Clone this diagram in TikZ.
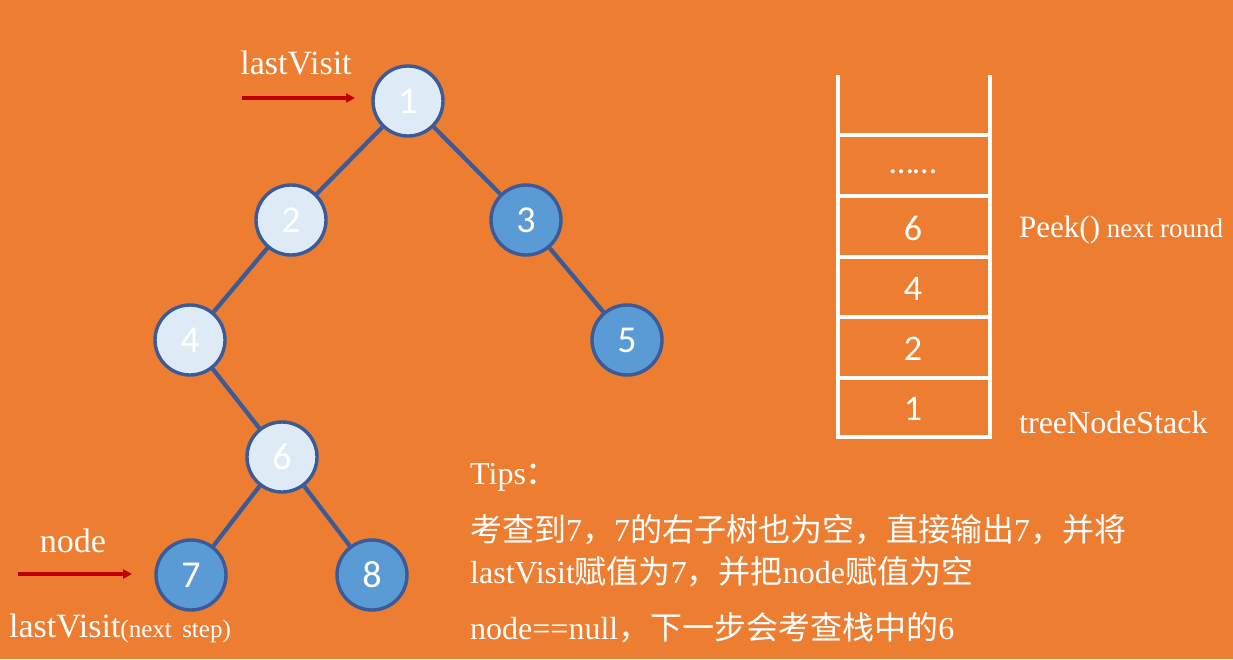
\documentclass[tikz,border=0pt]{standalone}
\usepackage{fontspec}
\setmainfont{Liberation Serif}
\newfontfamily\numfont{Carlito}
\newfontfamily\cjk{Noto Sans CJK SC}
\usetikzlibrary{arrows.meta}
\definecolor{bg}{HTML}{ED7D31}
\definecolor{lightn}{HTML}{DEEBF7}
\definecolor{darkn}{HTML}{5B9BD5}
\definecolor{edgec}{HTML}{3A5A98}
\definecolor{arrowred}{HTML}{C00000}
\tikzset{
  tnode/.style={circle, draw=edgec, line width=3.4pt, minimum size=70pt, inner sep=0pt, text=white, font=\numfont\fontsize{38}{40}\selectfont},
  lnode/.style={tnode, fill=lightn},
  dnode/.style={tnode, fill=darkn},
  tedge/.style={draw=edgec, line width=4.2pt},
  ptr/.style={draw=arrowred, line width=3.4pt, -{Triangle[length=9pt,width=9pt]}},
  lbl/.style={text=white, inner sep=0pt, font=\fontsize{34}{36}\selectfont},
  stk/.style={draw=white, line width=3.2pt},
  stxt/.style={text=white, inner sep=0pt, font=\numfont\fontsize{36}{38}\selectfont},
  tip/.style={text=white, inner sep=0pt, anchor=west, font=\fontsize{32}{34}\selectfont},
}
\newcommand{\zh}[1]{{\cjk #1}}
\begin{document}
\begin{tikzpicture}[x=1pt,y=-1pt]
\fill[bg] (0,0) rectangle (1233,659);
\useasboundingbox (0,0) rectangle (1233,659);
% tree nodes
\node[lnode] (n1) at (408,101) {1};
\node[lnode] (n2) at (291,220) {2};
\node[dnode] (n3) at (526,220) {3};
\node[lnode] (n4) at (190,340) {4};
\node[dnode] (n5) at (627,340) {5};
\node[lnode] (n6) at (282,457) {6};
\node[dnode] (n7) at (191,575) {7};
\node[dnode] (n8) at (372,575) {8};
\begin{scope}[on background layer/.style={}]
\draw[tedge] (n1) -- (n2);
\draw[tedge] (n1) -- (n3);
\draw[tedge] (n2) -- (n4);
\draw[tedge] (n3) -- (n5);
\draw[tedge] (n4) -- (n6);
\draw[tedge] (n6) -- (n7);
\draw[tedge] (n6) -- (n8);
\end{scope}
% pointers
\node[lbl] (lv) at (296,63) {lastVisit};
\coordinate (a1s) at (242,98);
\coordinate (a1e) at (355,98);
\draw[ptr] (a1s) -- (a1e);
\node[lbl] (nd) at (73,541) {node};
\coordinate (a2s) at (18,574);
\coordinate (a2e) at (132,574);
\draw[ptr] (a2s) -- (a2e);
\node[lbl, anchor=base west] (lvn) at (9,637) {lastVisit{\fontsize{25}{27}\selectfont(next\ \,step)}};
% stack
\draw[stk] (838,75) -- (838,437) -- (990,437) -- (990,75);
\foreach \yy in {135,196,257,317,378} {\draw[stk] (838,\yy) -- (990,\yy);}
\node[stxt] (sdots) at (913,172) {\fontsize{34}{36}\selectfont ……};
\node[stxt] (s6) at (913,228) {6};
\node[stxt] (s4) at (913,289) {4};
\node[stxt] (s2) at (913,349) {2};
\node[stxt] (s1) at (913,409) {1};
\node[lbl, anchor=base west, font=\fontsize{31}{33}\selectfont] (peek) at (1019,237) {Peek(){\fontsize{27}{29}\selectfont\ next round}};
\node[lbl, anchor=base west, font=\fontsize{32}{34}\selectfont] (tns) at (1019,433) {treeNodeStack};
% tips
\node[tip] (t0) at (470,477) {Tips\zh{：}};
\node[tip] (t1) at (470,530) {\zh{考查到}7\zh{，}7\zh{的右子树也为空，直接输出}7\zh{，并将}};
\node[tip] (t2) at (470,572) {lastVisit\zh{赋值为}7\zh{，并把}node\zh{赋值为空}};
\node[tip] (t3) at (470,628) {node==null\zh{，下一步会考查栈中的}6};
\end{tikzpicture}
\end{document}
